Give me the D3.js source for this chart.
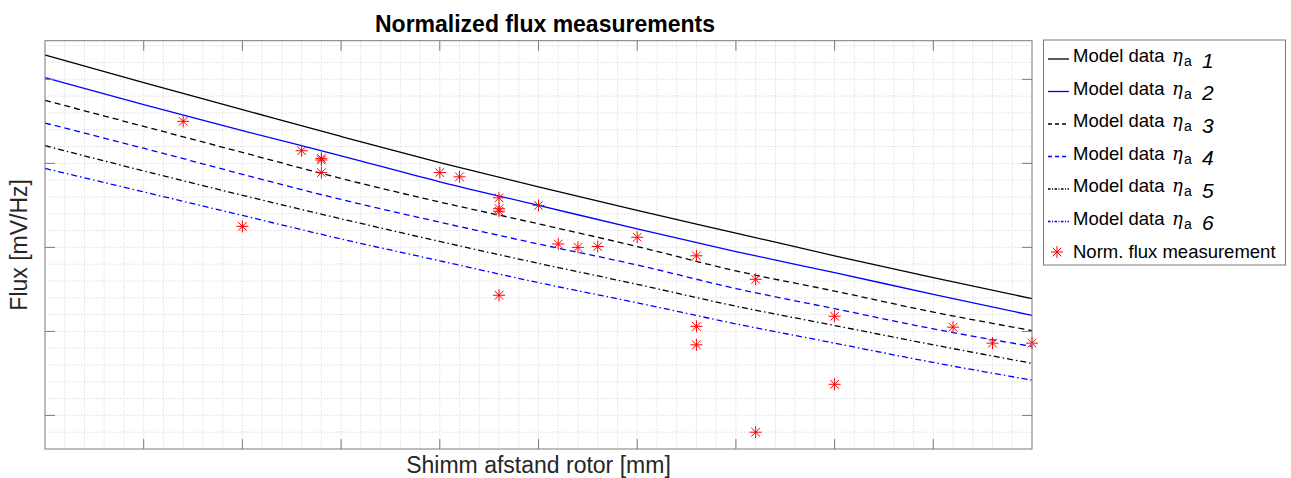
<!DOCTYPE html>
<html>
<head>
<meta charset="utf-8">
<script src="https://cdn.jsdelivr.net/npm/d3@7"></script>
<style>
  body { margin: 0; background: #fff; }
  svg { display: block; font-family: "Liberation Sans", Arial, sans-serif; }
</style>
</head>
<body>
<div id="chart"></div>
<script>
// model curves, sampled at every major x tick
const modelX = [0, 1, 2, 3, 4, 5, 6, 7, 8, 9, 10];
const model1 = [5.29, 4.96, 4.64, 4.32, 4.01, 3.72, 3.44, 3.17, 2.90, 2.64, 2.39];
const model2 = [5.02, 4.70, 4.39, 4.09, 3.78, 3.50, 3.22, 2.95, 2.70, 2.44, 2.19];
const model3 = [4.75, 4.44, 4.13, 3.82, 3.54, 3.28, 3.01, 2.72, 2.48, 2.23, 2.01];
const model4 = [4.48, 4.18, 3.87, 3.57, 3.30, 3.04, 2.79, 2.51, 2.27, 2.03, 1.82];
const model5 = [4.21, 3.91, 3.62, 3.34, 3.07, 2.81, 2.56, 2.30, 2.07, 1.84, 1.62];
const model6 = [3.94, 3.66, 3.38, 3.10, 2.84, 2.58, 2.34, 2.09, 1.86, 1.63, 1.42];

// measurements
const measX = [1.4, 2.0, 2.6, 2.8, 2.8, 2.8, 4.0, 4.2, 4.6, 4.6, 4.6, 4.6, 5.0, 5.2, 5.4, 5.6,
               6.0, 6.6, 6.6, 6.6, 7.2, 7.2, 8.0, 8.0, 9.2, 9.6, 10.0];
const measY = [4.50, 3.25, 4.15, 4.06, 4.04, 3.89, 3.89, 3.84, 3.59, 3.46, 3.43, 2.43, 3.50, 3.04, 3.00, 3.01,
               3.12, 2.90, 2.06, 1.84, 2.62, 0.80, 2.18, 1.37, 2.05, 1.86, 1.86];

const xTicks = [0, 1, 2, 3, 4, 5, 6, 7, 8, 9, 10];
const yTicks = [1, 2, 3, 4, 5];

const seriesNames = ["1", "2", "3", "4", "5", "6"];
const seriesColors = ["#000000", "#0000ff", "#000000", "#0000ff", "#000000", "#0000ff"];
const seriesDash = [null, null, "6,4", "6,4", "6,3,1.5,3", "6,3,1.5,3"];

const width = 1291, height = 478;
const mLeft = 45, mRight = 1032, mTop = 40.7, mBottom = 449;

const svg = d3.select("#chart").append("svg")
    .attr("width", width)
    .attr("height", height);

const x = d3.scaleLinear().domain([0, 10]).range([mLeft, mRight]);
const y = d3.scaleLinear().domain([0.6, 5.46]).range([mBottom, mTop]);

// grid (minor every 0.2)
const gx = d3.range(0.2, 10, 0.2);
const gy = d3.range(0.8, 5.46, 0.2);

svg.append("g").selectAll("line").data(gx).join("line")
    .attr("x1", d => x(d)).attr("x2", d => x(d))
    .attr("y1", mTop).attr("y2", mBottom)
    .attr("stroke", "#d8d8d8").attr("stroke-width", 0.8)
    .attr("stroke-dasharray", "1.5,1.5");

svg.append("g").selectAll("line").data(gy).join("line")
    .attr("y1", d => y(d)).attr("y2", d => y(d))
    .attr("x1", mLeft).attr("x2", mRight)
    .attr("stroke", "#d8d8d8").attr("stroke-width", 0.8)
    .attr("stroke-dasharray", "1.5,1.5");

// model lines
const models = [model1, model2, model3, model4, model5, model6];
const line = d3.line()
    .x((d, i) => x(modelX[i]))
    .y(d => y(d))
    .curve(d3.curveMonotoneX);

models.forEach((m, i) => {
    svg.append("path")
        .datum(m)
        .attr("d", line)
        .attr("fill", "none")
        .attr("stroke", seriesColors[i])
        .attr("stroke-width", 1.3)
        .attr("stroke-dasharray", seriesDash[i]);
});

// asterisk marker
const star = "M-6,0L6,0M0,-6L0,6M-4.3,-4.3L4.3,4.3M-4.3,4.3L4.3,-4.3";

svg.append("g").selectAll("path").data(measX).join("path")
    .attr("transform", (d, i) => `translate(${x(d)},${y(measY[i])})`)
    .attr("d", star)
    .attr("fill", "none")
    .attr("stroke", "#ff0000")
    .attr("stroke-width", 1);

// axes box and inward ticks
const axisColor = "#7a7a7a";
svg.append("rect")
    .attr("x", mLeft).attr("y", mTop)
    .attr("width", mRight - mLeft).attr("height", mBottom - mTop)
    .attr("fill", "none").attr("stroke", axisColor).attr("stroke-width", 1);

const tl = 10;
const ticksG = svg.append("g").attr("stroke", axisColor).attr("stroke-width", 1);
xTicks.slice(1, -1).forEach(t => {
    ticksG.append("line").attr("x1", x(t)).attr("x2", x(t)).attr("y1", mBottom).attr("y2", mBottom - tl);
    ticksG.append("line").attr("x1", x(t)).attr("x2", x(t)).attr("y1", mTop).attr("y2", mTop + tl);
});
yTicks.forEach(t => {
    ticksG.append("line").attr("y1", y(t)).attr("y2", y(t)).attr("x1", mLeft).attr("x2", mLeft + tl);
    ticksG.append("line").attr("y1", y(t)).attr("y2", y(t)).attr("x1", mRight).attr("x2", mRight - tl);
});

// title and labels
svg.append("text")
    .attr("x", 545).attr("y", 32)
    .attr("text-anchor", "middle")
    .style("font-size", "23px")
    .style("font-weight", "bold")
    .text("Normalized flux measurements");

svg.append("text")
    .attr("x", (mLeft + mRight) / 2).attr("y", 473)
    .attr("text-anchor", "middle")
    .style("font-size", "23px")
    .attr("fill", "#262626")
    .text("Shimm afstand rotor [mm]");

svg.append("text")
    .attr("transform", `translate(27,${(mTop + mBottom) / 2}) rotate(-90)`)
    .attr("text-anchor", "middle")
    .style("font-size", "23px")
    .attr("fill", "#262626")
    .text("Flux [mV/Hz]");

// legend
const lg = svg.append("g");
lg.append("rect")
    .attr("x", 1043.5).attr("y", 40)
    .attr("width", 242).attr("height", 225)
    .attr("fill", "#fff").attr("stroke", axisColor).attr("stroke-width", 1);

seriesNames.forEach((name, i) => {
    const ly = 59 + 32.5 * i;
    lg.append("line")
        .attr("x1", 1048).attr("x2", 1069)
        .attr("y1", ly).attr("y2", ly)
        .attr("stroke", seriesColors[i])
        .attr("stroke-width", 1.3)
        .attr("stroke-dasharray", seriesDash[i] ? (i < 4 ? "4,3" : "2.5,1.5,1,1.5") : null);

    const t = lg.append("text").attr("y", ly + 3.3).style("font-size", "18.5px");
    t.append("tspan").attr("x", 1073).text("Model data");
    t.append("tspan").attr("x", 1172)
        .style("font-family", "'DejaVu Serif', serif")
        .style("font-style", "italic")
        .style("font-size", "18px")
        .text("η");
    t.append("tspan").attr("x", 1184).attr("dy", 4)
        .style("font-size", "14px")
        .text("a");
    t.append("tspan").attr("x", 1202).attr("dy", 1.5)
        .style("font-style", "italic")
        .style("font-size", "21px")
        .text(name);
});

const sy = 59 + 32.5 * 6 - 2;
lg.append("path")
    .attr("transform", `translate(1057,${sy})`)
    .attr("d", star)
    .attr("fill", "none").attr("stroke", "#ff0000").attr("stroke-width", 1);
lg.append("text")
    .attr("x", 1073).attr("y", sy + 5.5)
    .style("font-size", "18.5px")
    .text("Norm. flux measurement");
</script>
</body>
</html>
